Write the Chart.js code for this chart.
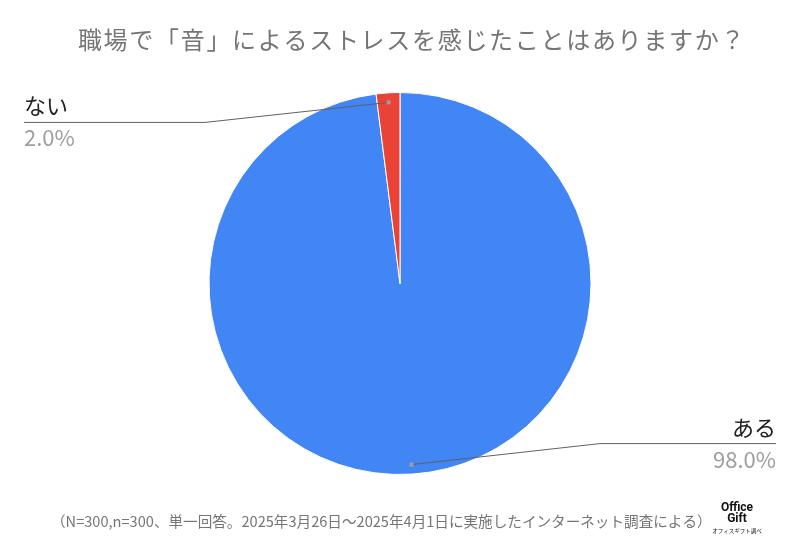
<!DOCTYPE html>
<html>
<head>
<meta charset="utf-8">
<script src="https://cdn.jsdelivr.net/npm/chart.js@4"></script>
<style>
  html, body { margin: 0; padding: 0; background: #fff; }
  #wrap { width: 800px; height: 550px; position: relative; }
</style>
</head>
<body>
<div id="wrap"><canvas id="chart" width="800" height="550"></canvas></div>
<script>
var categories = ["ある", "ない"];
var values = [98.0, 2.0];
var sliceColors = ["#4285F4", "#EA4335"];
var titleText = "職場で「音」によるストレスを感じたことはありますか？";
var noteText = "（N=300,n=300、単一回答。2025年3月26日～2025年4月1日に実施したインターネット調査による）";

var FONT = "'Noto Sans CJK JP', 'Noto Sans', sans-serif";

var calloutPlugin = {
  id: "callouts",
  afterDraw: function (chart) {
    var ctx = chart.ctx;
    var meta = chart.getDatasetMeta(0);
    var total = values.reduce(function (a, b) { return a + b; }, 0);

    // title
    ctx.save();
    ctx.fillStyle = "#757575";
    ctx.font = "24px " + FONT;
    ctx.letterSpacing = "1.7px";
    ctx.textAlign = "center";
    ctx.textBaseline = "middle";
    ctx.fillText(titleText, 412, 40);
    ctx.letterSpacing = "0px";

    // footnote
    ctx.font = "14.6px " + FONT;
    ctx.textAlign = "left";
    ctx.fillText(noteText, 51, 521);

    // logo
    ctx.fillStyle = "#111";
    ctx.textAlign = "center";
    ctx.font = "bold 12px Roboto, sans-serif";
    ctx.fillText("Office", 737, 508);
    ctx.fillText("Gift", 737, 519);
    ctx.font = "5.5px " + FONT;
    ctx.fillText("オフィスギフト調べ", 737, 531);

    meta.data.forEach(function (arc, i) {
      var mid = (arc.startAngle + arc.endAngle) / 2;
      var r = arc.outerRadius * 0.95;
      var dx = arc.x + Math.cos(mid) * r;
      var dy = arc.y + Math.sin(mid) * r;
      var left = Math.cos(mid) < 0.01 && Math.sin(mid) < 0;
      var lineY = left ? dy + 20 : dy - 21;
      var elbowX = left ? 205 : 600;
      var endX = left ? 24 : 776;

      ctx.strokeStyle = "#616161";
      ctx.lineWidth = 1;
      ctx.beginPath();
      ctx.moveTo(dx, dy);
      ctx.lineTo(elbowX, lineY);
      ctx.lineTo(endX, lineY);
      ctx.stroke();

      ctx.fillStyle = "#9e9e9e";
      ctx.fillRect(dx - 2, dy - 2, 4, 4);

      ctx.textAlign = left ? "left" : "right";
      ctx.textBaseline = "alphabetic";
      ctx.fillStyle = "#212121";
      ctx.font = "22px " + FONT;
      ctx.fillText(categories[i], endX, lineY - 8);
      ctx.fillStyle = "#9e9e9e";
      ctx.font = "22px " + FONT;
      ctx.fillText((values[i] / total * 100).toFixed(1) + "%", endX, lineY + 24);
    });
    ctx.restore();
  }
};

new Chart(document.getElementById("chart"), {
  type: "pie",
  data: {
    labels: categories,
    datasets: [{
      data: values,
      backgroundColor: sliceColors,
      borderColor: "#ffffff",
      borderWidth: 1
    }]
  },
  options: {
    responsive: false,
    animation: false,
    layout: { padding: { top: 92, bottom: 75, left: 200, right: 200 } },
    plugins: {
      legend: { display: false },
      tooltip: { enabled: false }
    }
  },
  plugins: [calloutPlugin]
});
</script>
</body>
</html>
